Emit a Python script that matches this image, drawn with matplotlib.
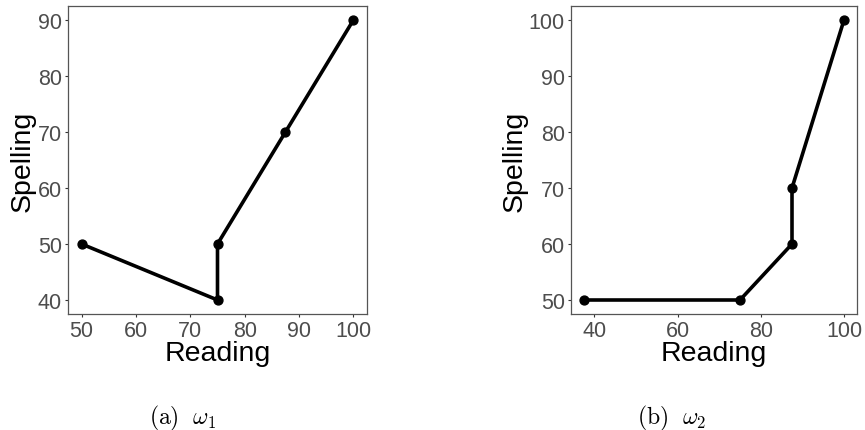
import matplotlib
matplotlib.use("Agg")
import matplotlib.pyplot as plt

plt.rcParams['font.family'] = ['Liberation Sans', 'DejaVu Sans']
plt.rcParams['mathtext.fontset'] = 'cm'

# panel (a): omega_1
reading_a = [50, 75, 75, 87.5, 100]
spelling_a = [50, 40, 50, 70, 90]
xticks_a = [50, 60, 70, 80, 90, 100]
yticks_a = [40, 50, 60, 70, 80, 90]

# panel (b): omega_2
reading_b = [37.5, 75, 87.5, 87.5, 100]
spelling_b = [50, 50, 60, 70, 100]
xticks_b = [40, 60, 80, 100]
yticks_b = [50, 60, 70, 80, 90, 100]

captions = [r'$\mathrm{(a)}\ \ \omega_1$', r'$\mathrm{(b)}\ \ \omega_2$']

W, H = 865, 431
fig = plt.figure(figsize=(W / 100, H / 100), dpi=100)


def expand(vals, frac=0.05):
    lo, hi = min(vals), max(vals)
    pad = (hi - lo) * frac
    return lo - pad, hi + pad


def panel(rect, xs, ys, xt, yt):
    ax = fig.add_axes(rect)
    ax.plot(xs, ys, color='black', lw=2.6, marker='o', ms=6.4, zorder=3)
    ax.set_xlim(*expand(xs))
    ax.set_ylim(*expand(ys))
    ax.set_xticks(xt)
    ax.set_yticks(yt)
    ax.tick_params(labelsize=15.5, labelcolor='#4D4D4D', color='#333333',
                   length=2.5, width=0.8, pad=2)
    for s in ax.spines.values():
        s.set_color('#555555')
        s.set_linewidth(0.9)
    return ax


panel([68 / W, 116 / H, 299 / W, 308 / H], reading_a, spelling_a, xticks_a, yticks_a)
panel([571 / W, 116 / H, 286 / W, 308 / H], reading_b, spelling_b, xticks_b, yticks_b)

# axis titles
for cx in [217.5, 714]:
    fig.text(cx / W, (H - 361) / H, 'Reading', fontsize=20.5, ha='center', va='baseline')
for cx in [23, 515]:
    fig.text(cx / W, (H - 161) / H, 'Spelling', fontsize=20.5, ha='center', va='center',
             rotation=90)

# captions
for cx, cap in zip([183, 672], captions):
    fig.text(cx / W, (H - 418) / H, cap, fontsize=17, ha='center', va='center')

fig.savefig('out.png', dpi=100)
